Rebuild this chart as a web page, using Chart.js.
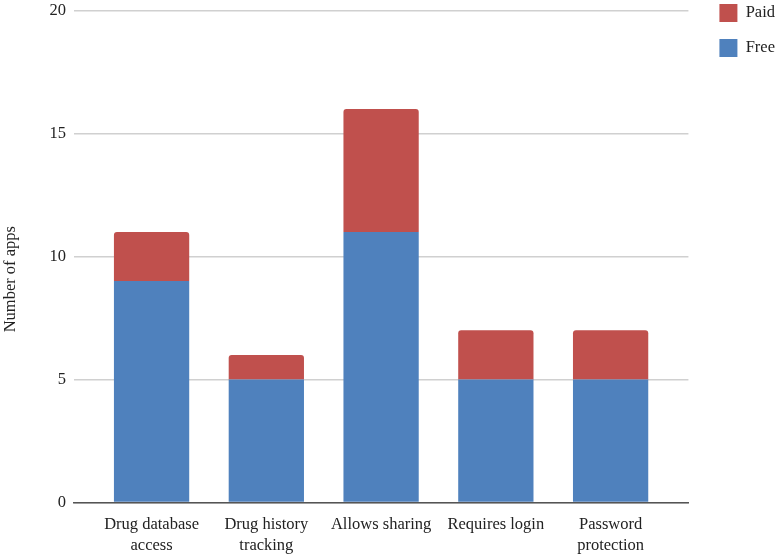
<!DOCTYPE html>
<html>
<head>
<meta charset="utf-8">
<script src="https://cdn.jsdelivr.net/npm/chart.js@4"></script>
<style>
  html, body { margin: 0; padding: 0; background: #fff; }
  #wrap { width: 777px; height: 555px; }
</style>
</head>
<body>
<div id="wrap"><canvas id="chart" width="777" height="555"></canvas></div>
<script>
const categories = [
    ["Drug database", "access"],
    ["Drug history", "tracking"],
    "Allows sharing",
    "Requires login",
    ["Password", "protection"]
];
const freeApps = [9, 5, 11, 5, 5];
const paidApps = [2, 1, 5, 2, 2];
const yTicks = [0, 5, 10, 15, 20];

const font = { family: "'Liberation Serif', 'Times New Roman', serif", size: 16.5, lineHeight: 1.27 };

// nudge the legend into the top right corner like the original
const legendNudge = {
    id: 'legendNudge',
    afterLayout(chart) {
        const lg = chart.legend;
        lg.left += 14; lg.right += 14;
        lg.top -= 13; lg.bottom -= 13;
    }
};

new Chart(document.getElementById("chart"), {
    type: 'bar',
    data: {
        datasets: [
            {
                label: 'Free',
                data: freeApps.map((v, i) => ({ x: i, y: v })),
                backgroundColor: '#4f81bd',
                borderWidth: 0,
                categoryPercentage: 0.8,
                barPercentage: 0.82
            },
            {
                label: 'Paid',
                data: paidApps.map((v, i) => ({ x: i, y: v })),
                backgroundColor: '#c0504d',
                borderWidth: 0,
                borderRadius: { topLeft: 3, topRight: 3 },
                borderSkipped: 'bottom',
                categoryPercentage: 0.8,
                barPercentage: 0.82
            }
        ]
    },
    options: {
        responsive: false,
        animation: false,
        layout: { padding: { top: 0, right: 6, bottom: 0, left: 0 } },
        plugins: {
            tooltip: { enabled: false },
            legend: {
                position: 'right',
                align: 'start',
                reverse: true,
                labels: {
                    font: font,
                    color: '#222',
                    boxWidth: 18,
                    boxHeight: 18,
                    padding: 17
                }
            }
        },
        scales: {
            x: {
                type: 'linear',
                stacked: true,
                offset: false,
                min: -0.676,
                max: 4.678,
                afterBuildTicks: scale => {
                    scale.ticks = categories.map((c, i) => ({ value: i }));
                },
                afterFit: scale => { scale.height = 52.5; },
                grid: { display: false },
                border: { display: true, color: '#555', width: 1.5 },
                ticks: {
                    font: font,
                    color: '#222',
                    padding: 4,
                    autoSkip: false,
                    maxRotation: 0,
                    callback: v => categories[v]
                }
            },
            y: {
                stacked: true,
                min: 0,
                max: 20,
                afterBuildTicks: scale => {
                    scale.ticks = yTicks.map(v => ({ value: v }));
                },
                afterFit: scale => {
                    scale.width = 74;
                    scale.paddingTop = 10.5;
                },
                grid: { color: '#d0d0d0', lineWidth: 1.5, drawTicks: false },
                border: { display: false },
                ticks: { font: { ...font, lineHeight: 1 }, color: '#222', padding: 8 },
                title: {
                    display: true,
                    text: 'Number of apps           ',
                    font: font,
                    color: '#222',
                    padding: 0
                }
            }
        }
    },
    plugins: [legendNudge]
});
</script>
</body>
</html>
